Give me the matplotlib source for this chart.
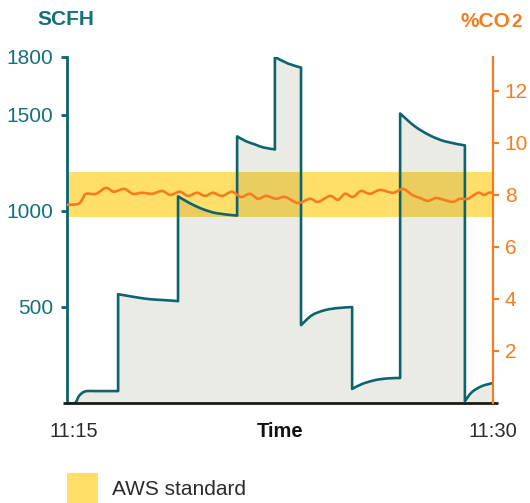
import matplotlib
matplotlib.use('Agg')
import matplotlib.pyplot as plt
from matplotlib.path import Path
from matplotlib.patches import PathPatch, Rectangle
import matplotlib.transforms as mtransforms
import numpy as np

plt.rcParams['font.family'] = ['Liberation Sans', 'DejaVu Sans']

# ---------------- data (minutes after 11:15) ----------------
scfh_time = [0, 0.28, 0.42, 0.56, 0.70, 1.0, 1.4, 1.80,
             1.80, 2.39, 2.92, 3.45, 3.91,
             3.91, 4.33, 4.79, 5.28, 5.99,
             5.99, 6.30, 6.62, 6.90, 7.32,
             7.32, 7.78, 8.24,
             8.24, 8.63, 9.08, 9.54, 10.04,
             10.04, 10.39, 10.85, 11.30, 11.73,
             11.73, 12.25, 12.78, 13.31, 14.01,
             14.01, 14.26, 14.61, 15.0]
scfh_value = [0, 0, 36, 55, 62, 62, 62, 62,
              566, 551, 540, 535, 530,
              1075, 1039, 1008, 987, 975,
              1387, 1362, 1345, 1330, 1319,
              1800, 1766, 1745,
              405, 457, 483, 494, 499,
              73, 99, 119, 128, 130,
              1506, 1439, 1392, 1361, 1340,
              10, 57, 88, 104]

co2_time = [0.00, 0.39, 0.53, 0.67, 1.02, 1.37, 1.65, 2.01, 2.32, 2.64,
            2.99, 3.35, 3.63, 3.98, 4.26, 4.58, 4.86, 5.14, 5.46, 5.81,
            6.13, 6.44, 6.73, 7.01, 7.36, 7.68, 8.13, 8.56, 8.84, 9.26,
            9.54, 9.79, 10.07, 10.35, 10.67, 11.02, 11.48, 11.83, 12.15, 12.43,
            12.71, 12.99, 13.27, 13.59, 13.84, 14.12, 14.47, 14.68, 14.86, 15.00]
co2_value = [7.62, 7.65, 7.81, 8.04, 8.04, 8.27, 8.12, 8.23, 8.04, 8.08,
             8.04, 8.15, 8.00, 8.12, 7.96, 8.08, 7.96, 8.08, 7.96, 8.12,
             7.92, 8.04, 7.85, 7.96, 7.85, 7.92, 7.69, 7.85, 7.73, 7.96,
             7.81, 8.04, 7.92, 8.15, 8.04, 8.19, 8.08, 8.23, 8.00, 7.88,
             7.77, 7.88, 7.81, 7.73, 7.85, 7.85, 8.08, 8.00, 8.08, 8.08]

aws_band = [7.15, 8.88]          # %CO2 range of the AWS standard
scfh_ticks = [500, 1000, 1500, 1800]
co2_ticks = [2, 4, 6, 8, 10, 12]
x_ticks = [0, 7.5, 15]
x_labels = ['11:15', 'Time', '11:30']

TEAL = '#0c6470'
TEAL_TXT = '#14707a'
ORANGE = '#f47d20'
GREY = '#ebebe6'
YELLOW = '#ffde6a'
OVERLAP = '#ebcc5f'


def smooth_verts(t, v):
    """Catmull-Rom bezier path through the points; repeated t -> vertical jump."""
    pts = np.column_stack([t, v]).astype(float)
    segs, cur = [], [pts[0]]
    for i in range(1, len(pts)):
        if pts[i][0] == pts[i - 1][0]:
            segs.append(cur)
            cur = [pts[i]]
        else:
            cur.append(pts[i])
    segs.append(cur)
    verts, codes = [], []
    for k, s in enumerate(segs):
        s = np.array(s)
        verts.append(s[0]); codes.append(Path.MOVETO if k == 0 else Path.LINETO)
        m = len(s)
        for j in range(m - 1):
            pm = s[j - 1] if j > 0 else s[j]
            p2 = s[j + 2] if j + 2 < m else s[j + 1]
            c1 = s[j] + (s[j + 1] - pm) / 6
            c2 = s[j + 1] - (p2 - s[j]) / 6
            verts += [c1, c2, s[j + 1]]
            codes += [Path.CURVE4] * 3
    return verts, codes


fig = plt.figure(figsize=(5.30, 5.03), dpi=100)
ax = fig.add_axes([0.1264, 0.1988, 0.8038, 0.6879])
ax2 = ax.twinx()
ax.set_xlim(0, 15)
ax.set_ylim(0, 1800)
ax2.set_ylim(0, 13.3)

# SCFH line and fill
lv, lc = smooth_verts(scfh_time, scfh_value)
line_path = Path(lv, lc)
fv = lv + [(scfh_time[-1], 0), (scfh_time[0], 0), (0, 0)]
fc = lc + [Path.LINETO, Path.LINETO, Path.CLOSEPOLY]
fill_path = Path(fv, fc)

ax.add_patch(PathPatch(fill_path, facecolor=GREY, edgecolor='none', zorder=1))
band = Rectangle((0, aws_band[0]), 15, aws_band[1] - aws_band[0],
                 transform=ax2.transData, facecolor=YELLOW, edgecolor='none', zorder=2)
ax.add_patch(band)
ov = PathPatch(fill_path, facecolor=OVERLAP, edgecolor='none', zorder=3)
ax.add_patch(ov)
ov.set_clip_path(band)
ax.add_patch(PathPatch(line_path, facecolor='none', edgecolor=TEAL, lw=1.9,
                       joinstyle='round', capstyle='round', zorder=4))

# CO2 line
cv, cc = smooth_verts(co2_time, co2_value)
ax2.add_patch(PathPatch(Path(cv, cc), facecolor='none', edgecolor=ORANGE, lw=1.9,
                        capstyle='round', zorder=5))

# spines
for s in ['top', 'right', 'bottom']:
    ax.spines[s].set_visible(False)
for s in ['top', 'left', 'bottom']:
    ax2.spines[s].set_visible(False)
ax.spines['left'].set_color(TEAL)
ax.spines['left'].set_linewidth(2)
ax2.spines['right'].set_color(ORANGE)
ax2.spines['right'].set_linewidth(1.6)
ax.plot([-0.01, 1.012], [0, 0], transform=ax.transAxes, color='#1a1a1a',
        lw=2.0, clip_on=False, zorder=6, solid_capstyle='butt')

# ticks
ax.set_yticks(scfh_ticks)
ax.tick_params(axis='y', colors=TEAL, labelcolor=TEAL_TXT, labelsize=15,
               length=4, width=2, pad=6)
ax2.set_yticks(co2_ticks)
ax2.tick_params(axis='y', colors=ORANGE, labelcolor=ORANGE, labelsize=15,
                length=4, width=1.6, pad=4.5)
ax.set_xticks(x_ticks)
ax.set_xticklabels(x_labels)
ax.tick_params(axis='x', length=0, pad=14, labelsize=14.5, labelcolor='#2b2b2b')
xl = ax.get_xticklabels()
xl[1].set_fontweight('bold')
xl[1].set_color('#111111')
xl[0].set_transform(xl[0].get_transform() +
                    mtransforms.ScaledTranslation(7 / 100, 0, fig.dpi_scale_trans))

# titles
fig.text(66 / 530, 1 - 25 / 503, 'SCFH', ha='center', va='baseline',
         fontsize=15, fontweight='bold', color=TEAL_TXT)
fig.text(510 / 530, 1 - 27 / 503, '%CO', ha='right', va='baseline',
         fontsize=15, fontweight='bold', color=ORANGE)
fig.text(511 / 530, 1 - 27 / 503, '2', ha='left', va='baseline',
         fontsize=13.5, fontweight='bold', color=ORANGE)

# legend
fig.add_artist(Rectangle((67 / 530, 0), 31 / 530, 30 / 503, transform=fig.transFigure,
                         facecolor=YELLOW, edgecolor='none'))
fig.text(112 / 530, 1 - 495 / 503, 'AWS standard', ha='left', va='baseline',
         fontsize=15, color='#2b2b2b')

fig.savefig('out.png', dpi=100)
